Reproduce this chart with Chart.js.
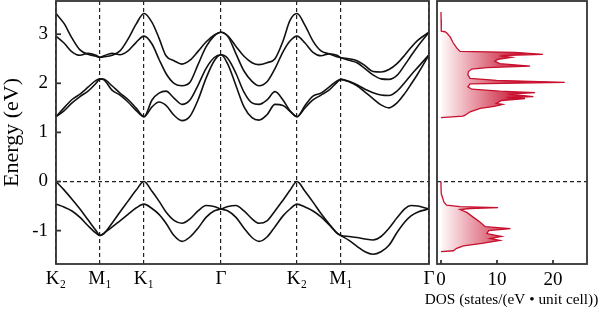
<!DOCTYPE html>
<html><head><meta charset="utf-8">
<script src="https://cdn.jsdelivr.net/npm/chart.js@4.4.1/dist/chart.umd.min.js"></script>
<style>
html,body{margin:0;padding:0;background:#fff;}
#wrap{position:relative;width:603px;height:310px;overflow:hidden;background:#fff;}
#bands{position:absolute;left:0;top:0;width:435px;height:310px;}
#dos{position:absolute;left:420px;top:0;width:183px;height:310px;}
</style></head><body>
<div id="wrap"><canvas id="bands" width="435" height="310"></canvas><canvas id="dos" width="183" height="310"></canvas></div>
<script>
// k-path positions (path length units) and high-symmetry ticks
const kPos = [0,8,16,24,32,40,44, 48,56,64,72,80,88, 96,103,110,118,126,134,142,150,158,165, 172,180,188,196,203,211,219,227,234,241, 249,257,265,273,281,285, 293,301,309,317,325,333,341,349,355,362,373];
const kTickPos = [0, 44, 88, 165, 241, 285, 373];
const kTickLabels = ['K\u2082','M\u2081','K\u2081','\u0393','K\u2082','M\u2081','\u0393'];
const eTicks = [-1, 0, 1, 2, 3];
const dosTicks = [0, 10, 20];

// band energies (eV)
const vbA = [0,-0.17,-0.36,-0.56,-0.78,-1.0,-1.1, -1.06,-0.85,-0.62,-0.4,-0.18,0, -0.2,-0.4,-0.62,-0.79,-0.85,-0.76,-0.6,-0.49,-0.51,-0.56, -0.6,-0.73,-0.95,-1.14,-1.22,-1.13,-0.92,-0.7,-0.56,-0.46, -0.52,-0.6,-0.72,-0.88,-1.05,-1.1, -1.12,-1.14,-1.17,-1.19,-1.12,-0.95,-0.74,-0.55,-0.49,-0.5,-0.56];
const vbB = [-0.46,-0.52,-0.6,-0.73,-0.9,-1.05,-1.1, -1.05,-0.93,-0.8,-0.67,-0.54,-0.46, -0.55,-0.67,-0.85,-1.1,-1.22,-1.13,-0.95,-0.73,-0.6,-0.56, -0.51,-0.49,-0.6,-0.76,-0.85,-0.8,-0.6,-0.38,-0.18,0, -0.2,-0.42,-0.65,-0.86,-1.05,-1.1, -1.2,-1.32,-1.43,-1.48,-1.43,-1.3,-1.04,-0.82,-0.7,-0.62,-0.56];
const cb1 = [1.32,1.44,1.6,1.73,1.84,2.0,2.09, 2.07,1.86,1.76,1.62,1.45,1.32, 1.52,1.62,1.55,1.35,1.24,1.33,1.66,2.1,2.45,2.58, 2.38,1.95,1.52,1.3,1.25,1.36,1.57,1.55,1.43,1.32, 1.5,1.66,1.76,1.86,2.02,2.08, 2.03,1.95,1.82,1.69,1.56,1.5,1.6,1.8,1.98,2.2,2.58];
const cb2 = [1.32,1.5,1.67,1.78,1.92,2.06,2.09, 2.08,1.95,1.8,1.67,1.5,1.32, 1.66,1.8,1.84,1.7,1.57,1.66,1.96,2.3,2.52,2.58, 2.5,2.2,1.82,1.6,1.57,1.66,1.83,1.66,1.44,1.32, 1.55,1.74,1.8,1.92,2.05,2.08, 2.04,1.97,1.88,1.81,1.76,1.75,1.84,2.02,2.17,2.33,2.58];
const cb3 = [2.96,2.82,2.64,2.57,2.61,2.57,2.53, 2.56,2.61,2.58,2.66,2.83,2.96, 2.8,2.49,2.2,2.0,1.95,2.02,2.38,2.74,2.96,3.04, 2.95,2.6,2.25,2.04,1.95,2.03,2.3,2.64,2.86,2.96, 2.82,2.63,2.56,2.6,2.57,2.52, 2.47,2.42,2.3,2.17,2.09,2.08,2.16,2.38,2.56,2.76,3.04];
const cb4 = [3.42,3.22,2.92,2.68,2.59,2.55,2.53, 2.54,2.57,2.66,2.9,3.2,3.42, 3.24,2.92,2.56,2.46,2.39,2.47,2.65,2.84,2.98,3.04, 2.96,2.75,2.55,2.42,2.38,2.42,2.5,2.86,3.28,3.42, 3.18,2.86,2.66,2.6,2.54,2.52, 2.5,2.46,2.36,2.24,2.23,2.28,2.4,2.58,2.73,2.88,3.04];

// density of states (energy, value)
const dosCondE = [3.45,3.3,3.06,3.05,3.03,2.95,2.82,2.72,2.65,2.64,2.63,2.59,2.57,2.56,2.53,2.49,2.45,2.4,2.35,2.32,2.29,2.24,2.17,2.1,2.06,2.02,2.0,1.99,1.93,1.88,1.84,1.81,1.78,1.73,1.71,1.69,1.65,1.59,1.57,1.53,1.49,1.42,1.35,1.33,1.3];
const dosCondV = [0,0.02,0.05,0.7,1.0,1.6,2.2,2.8,3.4,8.2,13.2,18.2,12.3,10.5,12.6,10.2,9.6,10.5,15.9,8.2,5.5,4.9,4.8,5.2,9.9,22.1,11.1,5.2,4.8,5.5,10.5,16.8,12,16.5,11.7,15,10.8,9.9,11,9.5,7.0,5.2,4.3,3.9,0];
const dosValE = [0,-0.12,-0.25,-0.42,-0.48,-0.51,-0.53,-0.55,-0.57,-0.63,-0.73,-0.83,-0.92,-0.96,-1.0,-1.06,-1.12,-1.16,-1.2,-1.26,-1.31,-1.36,-1.41,-1.43];
const dosValV = [0,0,0.05,0.54,1.0,3.4,10.2,5.2,3.4,4.6,5.8,7,7.9,12.4,8.5,8.2,10.8,8.8,10.5,7.3,4.0,2.8,2.2,0];

const E_MIN = -1.68, E_MAX = 3.676;

Chart.defaults.font.family = "'Liberation Serif','Times New Roman','DejaVu Serif',serif";
Chart.defaults.color = '#000';

const framePlugin = {
  id: 'frame',
  afterDraw(chart, args, o) {
    const {ctx, chartArea: a} = chart;
    ctx.save();
    ctx.strokeStyle = o.color; ctx.lineWidth = o.width;
    (o.inner || []).forEach(t => {
      const s = chart.scales[t.axis];
      s.ticks.forEach(tk => {
        const p = s.getPixelForValue(tk.value);
        ctx.beginPath();
        if (t.axis === 'y') { ctx.moveTo(a.left, p); ctx.lineTo(a.left + t.len, p); }
        else { ctx.moveTo(p, a.bottom); ctx.lineTo(p, a.bottom - t.len); }
        ctx.stroke();
      });
    });
    ctx.strokeRect(a.left, a.top, a.right - a.left, a.bottom - a.top);
    ctx.restore();
  }
};

const zeroGrid = c => (c.tick && c.tick.value === 0) ? '#222' : 'rgba(0,0,0,0)';
const noPad = s => { s.paddingTop = 0; s.paddingBottom = 0; s.paddingLeft = 0; s.paddingRight = 0; };

function bandSet(vals) {
  return { data: kPos.map((k, i) => ({x: k, y: vals[i]})), borderColor: '#111', borderWidth: 1.6,
           pointRadius: 0, fill: false, cubicInterpolationMode: 'monotone' };
}

new Chart(document.getElementById('bands'), {
  type: 'line',
  data: { datasets: [vbA, vbB, cb1, cb2, cb3, cb4].map(bandSet) },
  options: {
    responsive: false, animation: false, events: [],
    layout: { padding: { top: 1, right: 6, left: 0, bottom: 0 } },
    plugins: { legend: { display: false }, tooltip: { enabled: false },
               frame: { color: '#333', width: 1.8, inner: [{axis: 'y', len: 5}] } },
    scales: {
      x: { type: 'linear', min: 0, max: 373,
           afterBuildTicks: s => { s.ticks = kTickPos.map(v => ({value: v})); },
           afterFit: s => { s.height = 46; noPad(s); },
           ticks: { autoSkip: false, maxRotation: 0, padding: 4, font: { size: 19 }, callback: (v, i) => kTickLabels[i] },
           grid: { color: '#222', lineWidth: 1.2, drawTicks: false },
           border: { display: false, dash: [4, 3] } },
      y: { type: 'linear', min: E_MIN, max: E_MAX,
           afterBuildTicks: s => { s.ticks = eTicks.map(v => ({value: v})); },
           afterFit: s => { s.width = 56; noPad(s); },
           ticks: { padding: 8, font: { size: 19 }, callback: v => String(v) },
           grid: { color: zeroGrid, lineWidth: 1.2, drawTicks: false },
           border: { display: false, dash: [4, 3] },
           title: { display: true, text: 'Energy (eV)', font: { size: 22, lineHeight: 1 }, padding: { top: 1, bottom: 0 } } }
    }
  },
  plugins: [framePlugin]
});

function dosFill(ctx) {
  const ch = ctx.chart; const xs = ch.scales.x;
  if (!xs || !ch.chartArea) return 'rgba(200,20,50,0.5)';
  const g = ch.ctx.createLinearGradient(xs.getPixelForValue(0), 0, xs.getPixelForValue(14), 0);
  g.addColorStop(0, 'rgb(255,250,250)');
  g.addColorStop(1, 'rgb(200,20,50)');
  return g;
}
function dosSet(E, V) {
  return { data: E.map((e, i) => ({x: V[i], y: e})), borderColor: '#c8102e', borderWidth: 1.3,
           pointRadius: 0, tension: 0, fill: 'origin', backgroundColor: dosFill };
}

new Chart(document.getElementById('dos'), {
  type: 'line',
  data: { datasets: [dosSet(dosCondE, dosCondV), dosSet(dosValE, dosValV)] },
  options: {
    indexAxis: 'y', responsive: false, animation: false, events: [],
    layout: { padding: { top: 1, right: 0, left: 0, bottom: 0 } },
    plugins: { legend: { display: false }, tooltip: { enabled: false },
               title: { display: true, position: 'bottom', text: 'DOS (states/(eV \u2022 unit cell))',
                        font: { size: 15.3, weight: 'normal', lineHeight: 1 }, padding: { top: 0, bottom: 2.5 }, color: '#000' },
               frame: { color: '#333', width: 1.8, inner: [{axis: 'x', len: 4}] } },
    scales: {
      x: { type: 'linear', min: -0.714, max: 26.07,
           afterBuildTicks: s => { s.ticks = dosTicks.map(v => ({value: v})); },
           afterFit: s => { s.height = 28.2; noPad(s); },
           ticks: { padding: 5, font: { size: 19 }, callback: v => String(v) },
           grid: { display: false, drawTicks: false },
           border: { display: false } },
      y: { type: 'linear', min: E_MIN, max: E_MAX,
           afterBuildTicks: s => { s.ticks = eTicks.map(v => ({value: v})); },
           afterFit: s => { s.width = 17; noPad(s); },
           ticks: { display: false },
           grid: { color: zeroGrid, lineWidth: 1.2, drawTicks: false },
           border: { display: false, dash: [4, 3] } },
      yR: { type: 'linear', position: 'right', min: E_MIN, max: E_MAX,
            afterFit: s => { s.width = 16; noPad(s); },
            ticks: { display: false },
            grid: { display: false, drawTicks: false },
            border: { display: false } }
    }
  },
  plugins: [framePlugin]
});
</script>
</body></html>
